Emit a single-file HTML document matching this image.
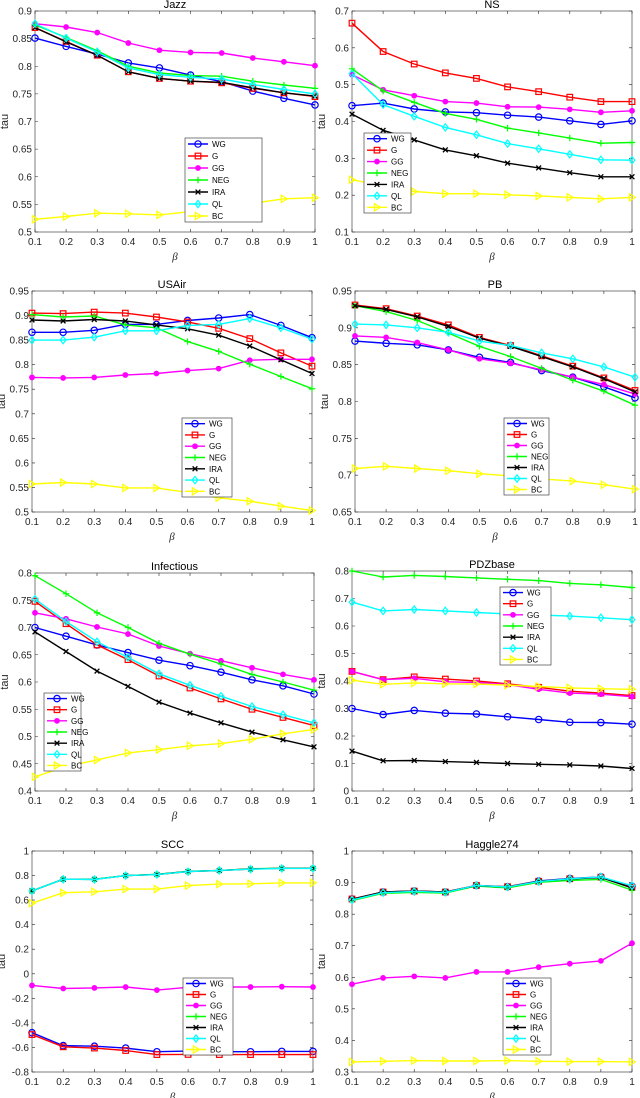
<!DOCTYPE html>
<html><head><meta charset="utf-8"><style>
body{margin:0;background:#fff}
svg{display:block;font-family:"Liberation Sans",sans-serif}
</style></head><body>
<svg id="fig" width="640" height="1098" xmlns="http://www.w3.org/2000/svg"></svg>
<script>
const betas=[0.1,0.2,0.3,0.4,0.5,0.6,0.7,0.8,0.9,1];
const seriesNames=["WG","G","GG","NEG","IRA","QL","BC"];
const jazzWG=[.851,.836,.822,.806,.797,.784,.772,.755,.742,.730];
const jazzG=[.870,.845,.820,.790,.778,.773,.770,.760,.752,.745];
const jazzGG=[.877,.871,.861,.842,.829,.825,.824,.815,.808,.801];
const jazzNEG=[.875,.852,.828,.800,.788,.783,.782,.773,.766,.760];
const jazzIRA=[.870,.844,.820,.790,.778,.773,.771,.761,.752,.746];
const jazzQL=[.877,.851,.826,.797,.785,.780,.777,.767,.758,.750];
const jazzBC=[.523,.528,.534,.533,.531,.537,.545,.552,.560,.562];
const nsWG=[.443,.450,.434,.426,.424,.417,.412,.402,.392,.402];
const nsG=[.667,.590,.556,.532,.517,.494,.481,.466,.454,.454];
const nsGG=[.527,.486,.470,.454,.450,.440,.439,.433,.425,.429];
const nsNEG=[.543,.483,.452,.422,.406,.382,.369,.355,.341,.343];
const nsIRA=[.420,.376,.350,.323,.307,.287,.274,.261,.250,.250];
const nsQL=[.530,.446,.414,.384,.364,.340,.326,.311,.296,.295];
const nsBC=[.242,.225,.210,.204,.204,.201,.198,.194,.190,.194];
const usWG=[.866,.866,.870,.882,.882,.890,.895,.902,.880,.855];
const usG=[.905,.904,.907,.905,.897,.887,.874,.853,.824,.797];
const usGG=[.774,.773,.774,.779,.782,.788,.792,.809,.811,.811];
const usNEG=[.902,.897,.899,.881,.875,.847,.827,.801,.776,.751];
const usIRA=[.891,.889,.892,.889,.881,.873,.860,.838,.810,.782];
const usQL=[.850,.850,.856,.869,.869,.880,.882,.894,.875,.852];
const usBC=[.557,.560,.557,.549,.549,.540,.529,.522,.512,.503];
const pbWG=[.882,.879,.877,.870,.860,.853,.842,.833,.820,.805];
const pbG=[.931,.926,.916,.904,.887,.876,.862,.848,.832,.815];
const pbGG=[.889,.887,.880,.870,.858,.852,.843,.833,.823,.810];
const pbNEG=[.930,.922,.910,.893,.875,.861,.845,.829,.814,.795];
const pbIRA=[.930,.925,.915,.902,.886,.875,.861,.847,.831,.813];
const pbQL=[.905,.904,.900,.894,.882,.876,.866,.858,.847,.833];
const pbBC=[.709,.712,.709,.706,.702,.699,.695,.692,.687,.681];
const infWG=[.700,.684,.668,.654,.640,.630,.618,.604,.593,.578];
const infG=[.748,.707,.668,.641,.611,.589,.569,.550,.535,.520];
const infGG=[.727,.716,.701,.688,.666,.652,.639,.626,.614,.604];
const infNEG=[.795,.762,.727,.700,.671,.651,.633,.614,.600,.585];
const infIRA=[.692,.656,.620,.592,.563,.543,.525,.508,.494,.481];
const infQL=[.752,.711,.674,.645,.615,.594,.574,.555,.540,.525];
const infBC=[.426,.445,.457,.470,.476,.483,.487,.495,.505,.513];
const pdzWG=[.300,.278,.293,.283,.280,.270,.260,.250,.249,.243];
const pdzG=[.435,.405,.415,.407,.400,.390,.377,.363,.356,.347];
const pdzGG=[.435,.405,.410,.397,.395,.387,.370,.356,.352,.343];
const pdzNEG=[.800,.778,.784,.780,.775,.770,.765,.755,.750,.740];
const pdzIRA=[.145,.110,.111,.107,.104,.100,.097,.095,.091,.082];
const pdzQL=[.687,.655,.660,.655,.649,.644,.640,.636,.630,.623];
const pdzBC=[.403,.388,.393,.390,.389,.385,.380,.375,.372,.370];
const sccWG=[-.48,-.585,-.59,-.605,-.635,-.63,-.635,-.635,-.632,-.632];
const sccG=[-.495,-.595,-.605,-.625,-.658,-.657,-.658,-.658,-.658,-.658];
const sccGG=[-.095,-.12,-.115,-.108,-.133,-.11,-.108,-.108,-.105,-.108];
const sccNEG=[.675,.77,.77,.80,.81,.835,.84,.855,.86,.86];
const sccIRA=[.675,.77,.769,.80,.809,.833,.841,.853,.859,.859];
const sccQL=[.675,.77,.768,.80,.808,.832,.842,.852,.858,.858];
const sccBC=[.575,.66,.668,.69,.69,.718,.73,.733,.74,.74];
const hagWG=[.848,.870,.873,.870,.891,.887,.905,.913,.918,.888];
const hagG=[.848,.870,.873,.870,.891,.887,.904,.912,.917,.885];
const hagGG=[.578,.598,.603,.598,.617,.617,.632,.643,.652,.708];
const hagNEG=[.843,.866,.869,.867,.889,.883,.901,.907,.910,.876];
const hagIRA=[.847,.870,.873,.870,.890,.886,.904,.911,.916,.883];
const hagQL=[.845,.868,.872,.869,.891,.886,.903,.912,.918,.890];
const hagBC=[.332,.334,.336,.335,.335,.336,.334,.333,.333,.332];
const jazzTicks=[0.5,0.55,0.6,0.65,0.7,0.75,0.8,0.85,0.9];
const nsTicks=[0.1,0.2,0.3,0.4,0.5,0.6,0.7];
const usTicks=[0.5,0.55,0.6,0.65,0.7,0.75,0.8,0.85,0.9,0.95];
const pbTicks=[0.65,0.7,0.75,0.8,0.85,0.9,0.95];
const infTicks=[0.4,0.45,0.5,0.55,0.6,0.65,0.7,0.75,0.8];
const pdzTicks=[0,0.1,0.2,0.3,0.4,0.5,0.6,0.7,0.8];
const sccTicks=[-0.8,-0.6,-0.4,-0.2,0,0.2,0.4,0.6,0.8,1];
const hagTicks=[0.3,0.4,0.5,0.6,0.7,0.8,0.9,1];
const xTickLabels=["0.1","0.2","0.3","0.4","0.5","0.6","0.7","0.8","0.9","1"];

const colors=["#0000ff","#ff0000","#ff00ff","#00ff00","#000000","#00ffff","#ffff00"];
const NS="http://www.w3.org/2000/svg";
const svg=document.getElementById('fig');
function mk(tag,attrs,parent){const e=document.createElementNS(NS,tag);for(const k in attrs)e.setAttribute(k,attrs[k]);(parent||svg).appendChild(e);return e;}
function marker(g,i,x,y,c){
  let e;
  if(i===0){e=mk('circle',{cx:x,cy:y,r:3.2,fill:'none',stroke:c,'stroke-width':1.2},g);}
  else if(i===1){e=mk('rect',{x:x-2.8,y:y-2.8,width:5.6,height:5.6,fill:'none',stroke:c,'stroke-width':1.2},g);}
  else if(i===2){e=mk('circle',{cx:x,cy:y,r:2.4,fill:c,stroke:c},g);}
  else if(i===3){e=mk('path',{d:`M${x-3.2},${y}H${x+3.2}M${x},${y-3.2}V${y+3.2}`,stroke:c,'stroke-width':1.2},g);}
  else if(i===4){e=mk('path',{d:`M${x-2.4},${y-2.4}L${x+2.4},${y+2.4}M${x-2.4},${y+2.4}L${x+2.4},${y-2.4}`,stroke:c,'stroke-width':1.3},g);}
  else if(i===5){e=mk('path',{d:`M${x},${y-3.6}L${x+2.8},${y}L${x},${y+3.6}L${x-2.8},${y}Z`,fill:'none',stroke:c,'stroke-width':1.2},g);}
  else {e=mk('path',{d:`M${x-2.6},${y-3.6}L${x+3.4},${y}L${x-2.6},${y+3.6}Z`,fill:'none',stroke:c,'stroke-width':1.2},g);}
  
  
}
function panel(p){
  const g=mk('g',{});
  
  
  const xs=v=>p.x0+(v-0.1)/0.9*(p.x1-p.x0);
  const ys=v=>p.yb+(v-p.ymin)/(p.ymax-p.ymin)*(p.yt-p.yb);
  const ax=mk('rect',{x:p.x0,y:p.yt,width:p.x1-p.x0,height:p.yb-p.yt,fill:'#fff',stroke:'#262626','stroke-width':0.6},g);
  
  p.ticks.forEach(t=>{
    const y=ys(t);
    mk('path',{d:`M${p.x0},${y}h3M${p.x1},${y}h-3`,stroke:'#262626','stroke-width':0.6},g);
    const tl=mk('text',{x:p.x0-3,y:y+3.5,'font-size':10,'text-anchor':'end',fill:'#262626'},g);
    tl.textContent=String(t);
    
  });
  betas.forEach((b,i)=>{
    const x=xs(b);
    mk('path',{d:`M${x},${p.yb}v-3M${x},${p.yt}v3`,stroke:'#262626','stroke-width':0.6},g);
    const tl=mk('text',{x:x,y:p.yb+13,'font-size':10,'text-anchor':'middle',fill:'#262626'},g);
    tl.textContent=xTickLabels[i];
    
  });
  const ti=mk('text',{x:(p.x0+p.x1)/2,y:p.yt-3,'font-size':11,'text-anchor':'middle',fill:'#000'},g);
  ti.textContent=p.title;
  const xl=mk('text',{x:(p.x0+p.x1)/2,y:p.yb+28,'font-size':11,'font-style':'italic','text-anchor':'middle',fill:'#262626',"font-family":"Liberation Serif, serif"},g);
  xl.textContent='β';
  const yc=(p.yt+p.yb)/2, ylx=p.x0-27;
  const yl=mk('text',{x:ylx,y:yc,'font-size':11,'text-anchor':'middle',fill:'#262626',transform:`rotate(-90 ${ylx} ${yc})`},g);
  yl.textContent='tau';
  p.series.forEach((s,i)=>{
    const c=colors[i];
    const sg=mk('g',{},g);
    
    
    const d=s.map((v,j)=>(j?'L':'M')+xs(betas[j]).toFixed(1)+','+ys(v).toFixed(1)).join('');
    const ln=mk('path',{d:d,fill:'none',stroke:c,'stroke-width':1.4},sg);
    
    s.forEach((v,j)=>marker(sg,i,xs(betas[j]),ys(v),c));
  });
  const L=p.leg, lh=(L.y1-L.y0)/7;
  const lg=mk('g',{},g);
  
  mk('rect',{x:L.x0,y:L.y0,width:L.x1-L.x0,height:L.y1-L.y0,fill:'#fff',stroke:'#262626','stroke-width':0.6},lg);
  seriesNames.forEach((n,i)=>{
    const y=L.y0+lh*(i+0.5);
    const eg=mk('g',{},lg);
    
    mk('path',{d:`M${L.x0+3},${y}h20`,stroke:colors[i],'stroke-width':1.4},eg);
    marker(eg,i,L.x0+13,y,colors[i]);
    const t=mk('text',{x:L.x0+27,y:y+3,'font-size':8,fill:'#000'},eg);t.textContent=n;
  });
}
const panels=[
 {key:'jazz',title:'Jazz',x0:35,x1:315,yt:11,yb:232,ymin:0.5,ymax:0.9,ticks:jazzTicks,series:[jazzWG,jazzG,jazzGG,jazzNEG,jazzIRA,jazzQL,jazzBC],leg:{x0:185,x1:262,y0:138,y1:222}},
 {key:'ns',title:'NS',x0:352,x1:632,yt:11,yb:232,ymin:0.1,ymax:0.7,ticks:nsTicks,series:[nsWG,nsG,nsGG,nsNEG,nsIRA,nsQL,nsBC],leg:{x0:364,x1:411,y0:133,y1:213}},
 {key:'usair',title:'USAir',x0:32,x1:312,yt:291,yb:512,ymin:0.5,ymax:0.95,ticks:usTicks,series:[usWG,usG,usGG,usNEG,usIRA,usQL,usBC],leg:{x0:182,x1:232,y0:418,y1:497}},
 {key:'pb',title:'PB',x0:355,x1:635,yt:291,yb:512,ymin:0.65,ymax:0.95,ticks:pbTicks,series:[pbWG,pbG,pbGG,pbNEG,pbIRA,pbQL,pbBC],leg:{x0:504,x1:549,y0:418,y1:495}},
 {key:'infectious',title:'Infectious',x0:35,x1:314,yt:573,yb:791,ymin:0.4,ymax:0.8,ticks:infTicks,series:[infWG,infG,infGG,infNEG,infIRA,infQL,infBC],leg:{x0:44,x1:81,y0:693,y1:771}},
 {key:'pdzbase',title:'PDZbase',x0:352,x1:632,yt:571,yb:791,ymin:0,ymax:0.8,ticks:pdzTicks,series:[pdzWG,pdzG,pdzGG,pdzNEG,pdzIRA,pdzQL,pdzBC],leg:{x0:500,x1:551,y0:587,y1:665}},
 {key:'scc',title:'SCC',x0:32,x1:313,yt:851,yb:1072,ymin:-0.8,ymax:1,ticks:sccTicks,series:[sccWG,sccG,sccGG,sccNEG,sccIRA,sccQL,sccBC],leg:{x0:183,x1:233,y0:978,y1:1055}},
 {key:'haggle274',title:'Haggle274',x0:352,x1:632,yt:851,yb:1072,ymin:0.3,ymax:1,ticks:hagTicks,series:[hagWG,hagG,hagGG,hagNEG,hagIRA,hagQL,hagBC],leg:{x0:503,x1:551,y0:978,y1:1055}}
];
panels.forEach(panel);
</script>
</body></html>
